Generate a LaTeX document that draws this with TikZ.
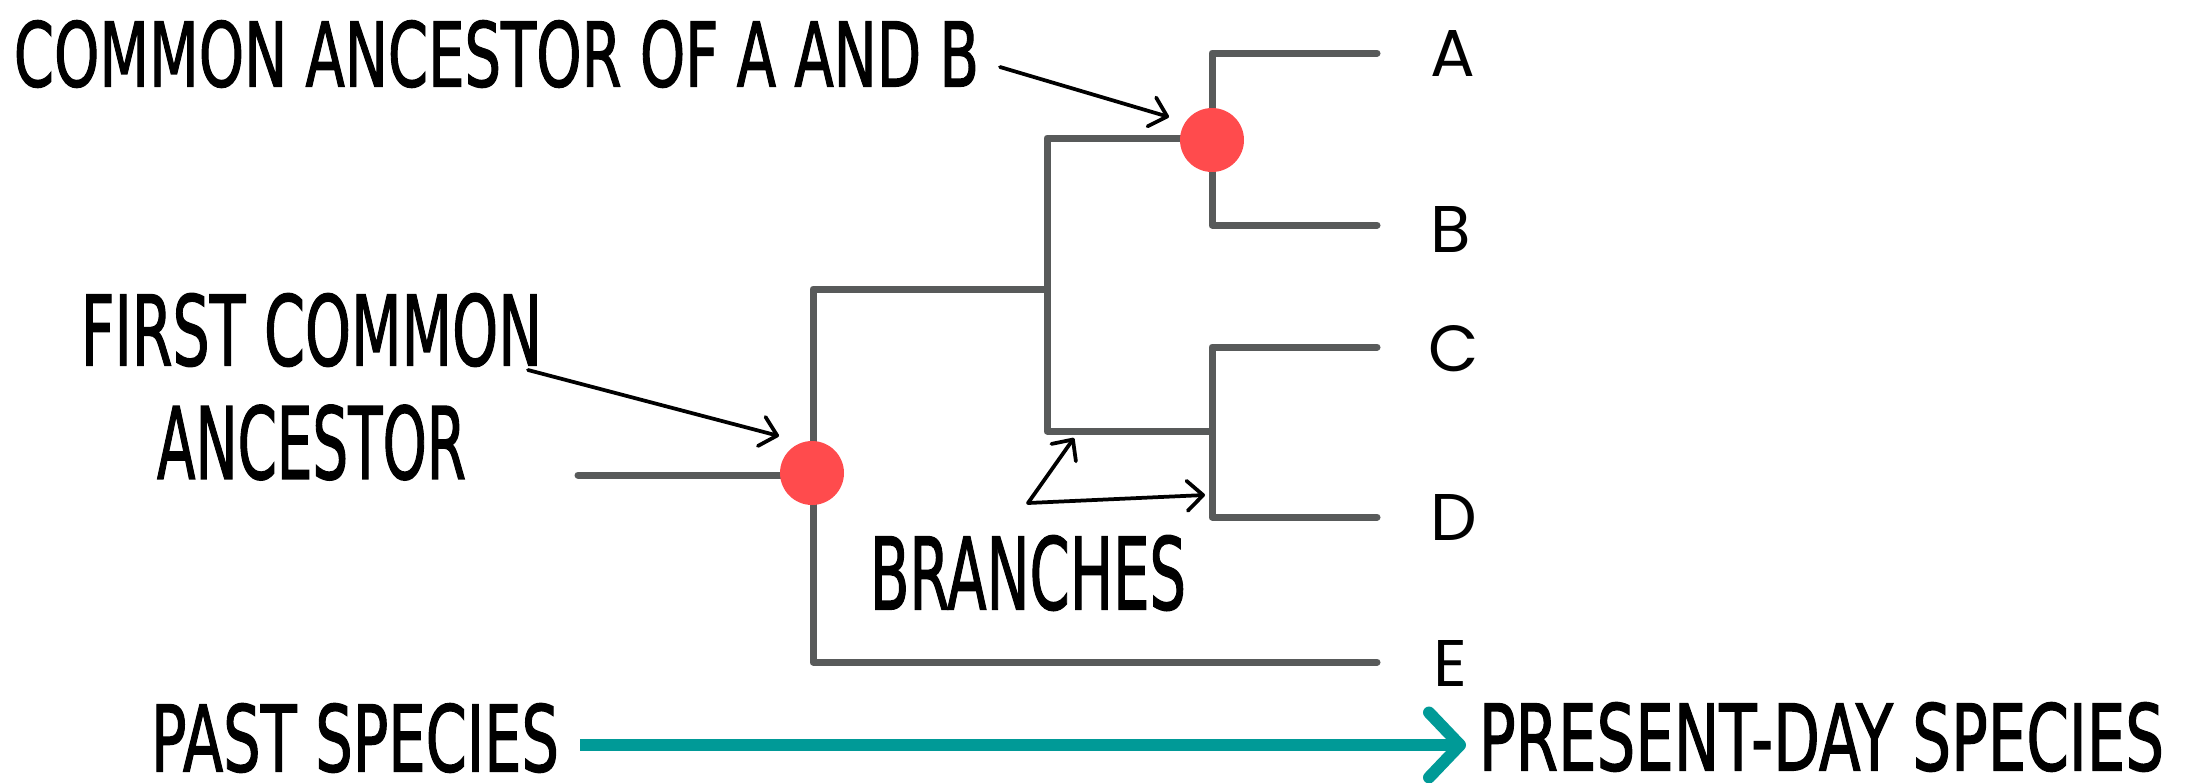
\documentclass[tikz,border=0pt]{standalone}
\usepackage{fontspec}
\usepackage{graphicx}
\setmainfont[FakeBold=1.6]{DejaVu Sans}
\newfontfamily\leaffont{Poppins}
\usetikzlibrary{arrows.meta}

% one drawing unit
\newdimen\px \px=0.02cm
% caption text squeezed into a fixed box (width, height in units)
\newcommand{\fitcap}[3]{\resizebox{#1\px}{#2\px}{#3}}
\newcommand{\leafname}[1]{\resizebox{!}{46\px}{\leaffont #1}}

\definecolor{treegray}{HTML}{585A5A}
\definecolor{nodered}{HTML}{FF4B4D}
\definecolor{timeteal}{HTML}{009A97}

\tikzset{
  branch/.style={draw=treegray, line width=0.14cm, line cap=round, line join=round},
  ancestor/.style={circle, fill=nodered, minimum size=1.28cm, inner sep=0pt},
  caption/.style={inner sep=0pt, text=black},
  leaf/.style={inner sep=0pt, text=black},
  pointer/.style={draw=black, line width=0.075cm, line cap=round,
    -{Straight Barb[length=0.32cm, width=0.6cm, round]}},
  timeline/.style={draw=timeteal, line width=0.24cm,
    -{Straight Barb[length=0.62cm, width=1.3cm, round]}}
}

\begin{document}
\begin{tikzpicture}[x=0.02cm, y=-0.02cm]
\useasboundingbox (0,0) rectangle (2192,782);

% tree skeleton
\coordinate (s0) at (578,475);
\coordinate (r0) at (813,475);
\coordinate (r1) at (813,289);
\coordinate (r2) at (813,662);
\coordinate (n1) at (1047,289);
\coordinate (n1t) at (1047,138);
\coordinate (n1b) at (1047,431);
\coordinate (ab) at (1212,138);
\coordinate (abT) at (1212,53);
\coordinate (abB) at (1212,225);
\coordinate (cd) at (1212,431);
\coordinate (cdT) at (1212,347);
\coordinate (cdB) at (1212,517);
\coordinate (tA) at (1377,53);
\coordinate (tB) at (1377,225);
\coordinate (tC) at (1377,347);
\coordinate (tD) at (1377,517);
\coordinate (tE) at (1377,662);

\draw[branch] (s0) -- (r0);
\draw[branch] (n1) -- (r1) -- (r2) -- (tE);
\draw[branch] (ab) -- (n1t) -- (n1b) -- (cd);
\draw[branch] (tA) -- (abT) -- (abB) -- (tB);
\draw[branch] (tC) -- (cdT) -- (cdB) -- (tD);

% ancestors
\node[ancestor] (rootnode) at (812,473) {};
\node[ancestor] (abnode) at (1212,140) {};

% leaf names
\node[leaf] (A) at (1453,53) {\leafname{A}};
\node[leaf] (B) at (1451,229) {\leafname{B}};
\node[leaf] (C) at (1454,349) {\leafname{C}};
\node[leaf] (D) at (1454,517) {\leafname{D}};
\node[leaf] (E) at (1450,663) {\leafname{E}};

% captions
\node[caption] (capab) at (496.5,54) {\fitcap{965}{66}{COMMON ANCESTOR OF A AND B}};
\node[caption] (first1) at (311.5,330) {\fitcap{461}{72}{FIRST COMMON}};
\node[caption] (first2) at (311.5,442.5) {\fitcap{309}{74}{ANCESTOR}};
\node[caption] (branches) at (1028,573) {\fitcap{316}{74}{BRANCHES}};
\node[caption] (past) at (355,738) {\fitcap{408}{68}{PAST SPECIES}};
\node[caption] (present) at (1821.5,737) {\fitcap{685}{68}{PRESENT-DAY SPECIES}};

% pointers
\coordinate (pabS) at (1000,67);
\coordinate (pabE) at (1169,117);
\coordinate (prS) at (528,370);
\coordinate (prE) at (779,436);
\coordinate (fork) at (1028,503);
\coordinate (brE1) at (1074,438);
\coordinate (brE2) at (1205,495);

\draw[pointer] (pabS) -- (pabE);
\draw[pointer] (prS) -- (prE);
\draw[pointer] (fork) -- (brE1);
\draw[pointer] (fork) -- (brE2);

% time axis
\coordinate (tl0) at (580,745);
\coordinate (tl1) at (1466,745);
\draw[timeline] (tl0) -- (tl1);
\end{tikzpicture}
\end{document}
